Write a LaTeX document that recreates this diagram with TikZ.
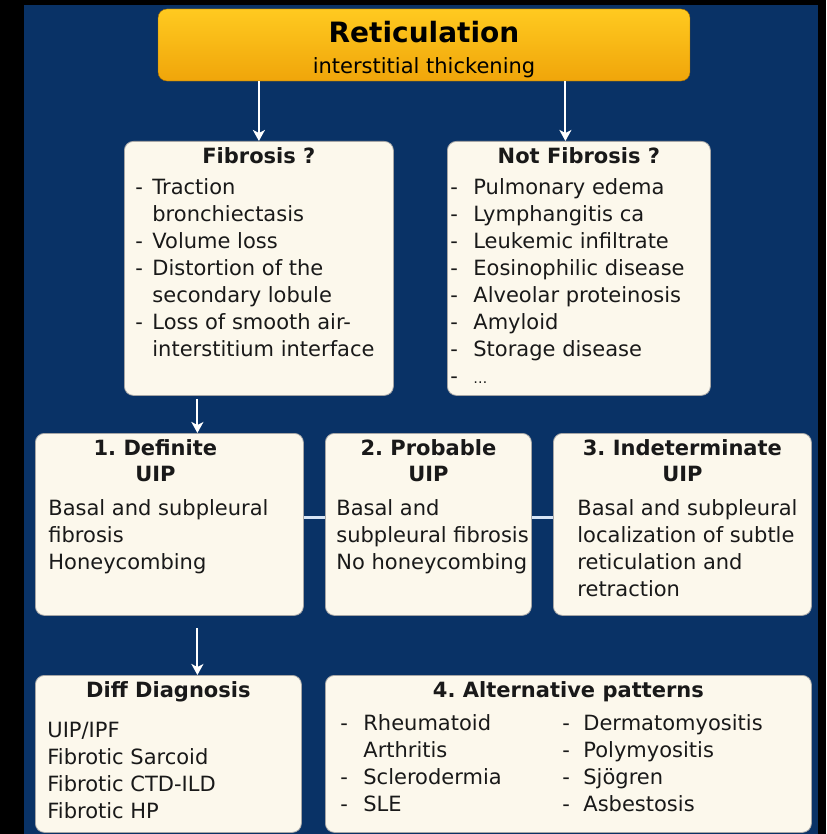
\documentclass[tikz,border=0pt]{standalone}
\usepackage{fontspec}
\setmainfont{DejaVu Sans}
\usetikzlibrary{arrows.meta}
\frenchspacing

\definecolor{navybg}{RGB}{9,50,102}
\definecolor{cardcream}{RGB}{252,248,236}
\definecolor{goldtop}{RGB}{255,202,32}
\definecolor{goldbot}{RGB}{240,165,10}
\definecolor{goldedge}{RGB}{160,105,0}
\definecolor{linkblue}{RGB}{214,228,245}

\newcommand{\cardhead}[2][0pt]{{\centering\bfseries\fontsize{21}{26}\selectfont\rightskip=#1 plus 1fil\relax #2\par}}
\newcommand{\dashline}[2][17pt]{\par\noindent\hangindent=#1\hangafter=1\makebox[#1][l]{-}#2}

\begin{document}
\begin{tikzpicture}[
  x=1pt, y=-1pt,
  top box/.style={
    draw=goldedge,
    top color=goldtop,
    bottom color=goldbot,
    rounded corners=9pt,
    minimum width=532pt,
    minimum height=70pt,
    align=center,
    text=black,
    font=\fontsize{21}{31}\selectfont
  },
  card/.style={
    draw=black!35,
    fill=cardcream,
    rounded corners=9pt,
    line width=.8pt,
    inner xsep=0pt,
    inner ysep=6pt,
    anchor=north west,
    text=black!90,
    font=\fontsize{21}{27}\selectfont
  },
  flow arrow/.style={
    draw=white,
    line width=2pt,
    -{Stealth[length=11pt,width=12pt,inset=3pt]}
  },
  link line/.style={
    draw=linkblue,
    line width=3pt
  },
]
\useasboundingbox (0,0) rectangle (826,834);
\fill[black] (0,0) rectangle (826,834);
\fill[navybg] (24,5) rectangle (818,834);

\node[top box] (retic) at (424,45)
  {\rule{0pt}{30pt}{\fontsize{28}{31}\selectfont\bfseries Reticulation}\\
   interstitial thickening};

\node[card] (fib) at (124,141) {\parbox[c][242pt][t]{269pt}{%
  \cardhead{Fibrosis ?}\vspace{4pt}
  \raggedright\leftskip=11pt
  \dashline{Traction\newline bronchiectasis}
  \dashline{Volume loss}
  \dashline{Distortion of the\newline secondary lobule}
  \dashline{Loss of smooth air-\newline interstitium interface}}};

\node[card] (nfib) at (447,141) {\parbox[c][242pt][t]{263pt}{%
  \cardhead{Not Fibrosis ?}\vspace{4pt}
  \raggedright\leftskip=3pt
  \dashline[23pt]{Pulmonary edema}
  \dashline[23pt]{Lymphangitis ca}
  \dashline[23pt]{Leukemic infiltrate}
  \dashline[23pt]{Eosinophilic disease}
  \dashline[23pt]{Alveolar proteinosis}
  \dashline[23pt]{Amyloid}
  \dashline[23pt]{Storage disease}
  \dashline[23pt]{\fontsize{14}{27}\selectfont\dots}}};

\node[card] (def) at (35,433) {\parbox[c][170pt][t]{268pt}{%
  \cardhead[28pt]{1. Definite\\UIP}\vspace{7pt}
  \raggedright\leftskip=13pt
  Basal and subpleural\\fibrosis\\Honeycombing}};

\node[card] (prob) at (325,433) {\parbox[c][170pt][t]{206pt}{%
  \cardhead{2. Probable\\UIP}\vspace{7pt}
  \raggedright\leftskip=11pt
  Basal and\\subpleural fibrosis\\No honeycombing}};

\node[card] (ind) at (553,433) {\parbox[c][170pt][t]{258pt}{%
  \cardhead{3. Indeterminate\\UIP}\vspace{7pt}
  \raggedright\leftskip=24pt
  Basal and subpleural\\localization of subtle\\reticulation and\\retraction}};

\node[card] (diff) at (35,675) {\parbox[c][145pt][t]{266pt}{%
  \cardhead{Diff Diagnosis}\vspace{13pt}
  \raggedright\leftskip=12pt
  UIP/IPF\\Fibrotic Sarcoid\\Fibrotic CTD-ILD\\Fibrotic HP}};

\node[card] (alt) at (325,675) {\parbox[c][145pt][t]{486pt}{%
  \cardhead{4. Alternative patterns}\vspace{6pt}
  \noindent\hspace*{15pt}%
  \parbox[t]{222pt}{\raggedright
    \dashline[23pt]{Rheumatoid\newline Arthritis}
    \dashline[23pt]{Sclerodermia}
    \dashline[23pt]{SLE}}%
  \parbox[t]{240pt}{\raggedright
    \dashline[21pt]{Dermatomyositis}
    \dashline[21pt]{Polymyositis}
    \dashline[21pt]{Sjögren}
    \dashline[21pt]{Asbestosis}}}};

\coordinate (nf in) at ([xshift=-13.5pt]nfib.north);
\coordinate (def in) at ([xshift=28pt]def.north);
\coordinate (diff in) at ([xshift=29pt]diff.north);

\draw[flow arrow] (retic.south -| fib.north) -- (fib.north);
\draw[flow arrow] (retic.south -| nf in) -- (nf in);
\draw[flow arrow, shorten <=3pt] (fib.south -| def in) -- (def in);
\draw[flow arrow, shorten <=12pt] (def.south -| diff in) -- (diff in);

\draw[link line] ([yshift=7pt]def.east) -- ([yshift=7pt]prob.west);
\draw[link line] ([yshift=7pt]prob.east) -- ([yshift=7pt]ind.west);
\end{tikzpicture}
\end{document}
